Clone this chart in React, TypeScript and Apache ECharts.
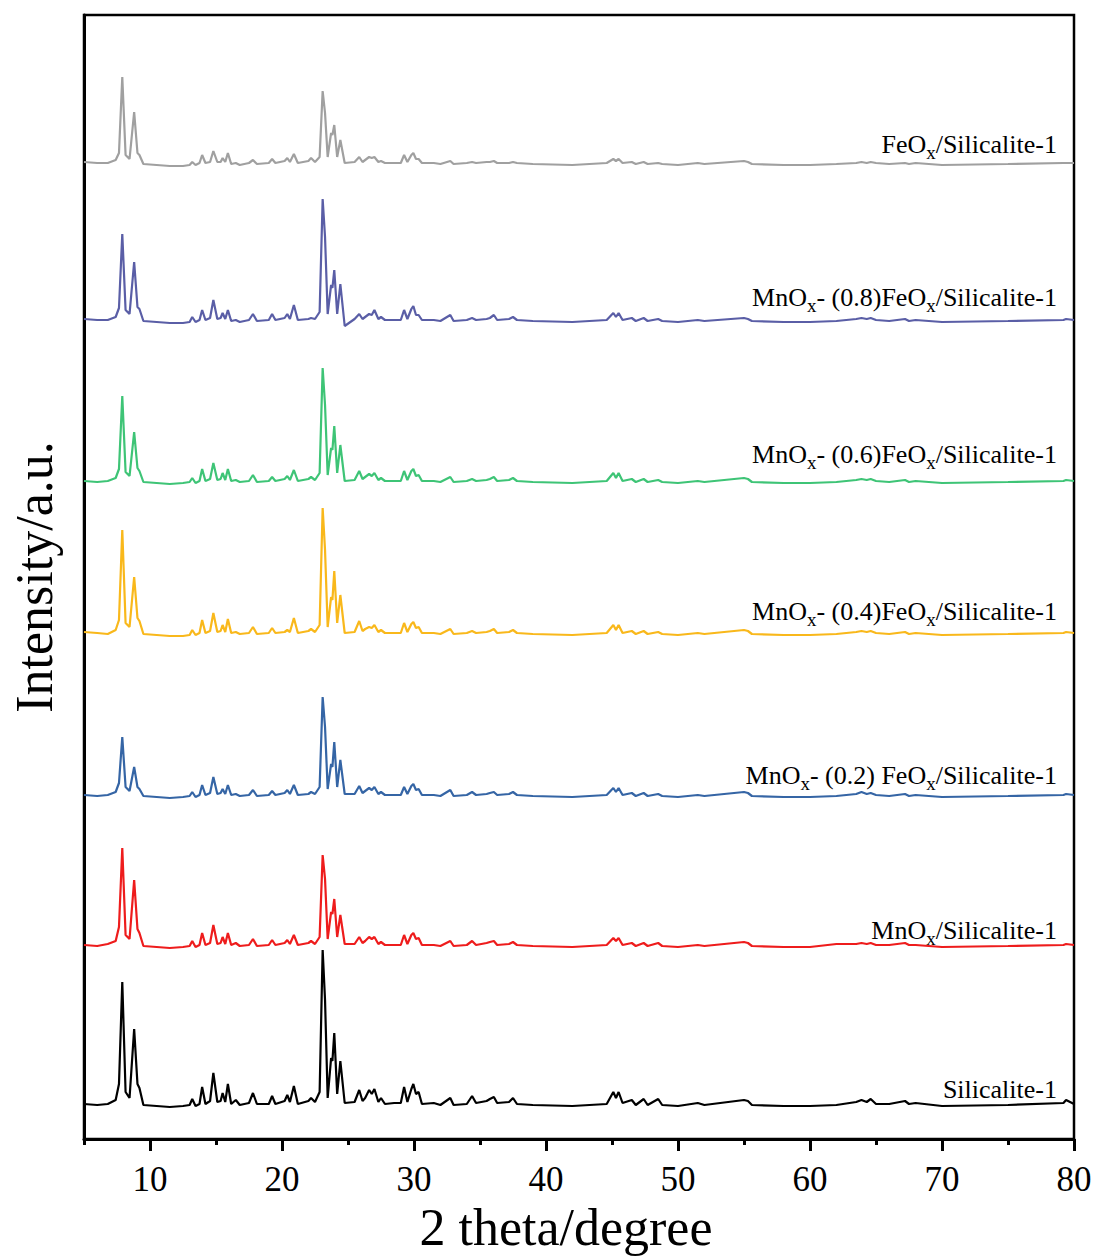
import React, { useEffect, useRef } from "react";
import * as echarts from "echarts";

// 2θ key points shared by all patterns
const twoTheta: number[] = [
  5.0, 6.0, 6.8, 7.4, 7.65, 7.9, 8.15, 8.45, 8.8, 9.05,
  9.2, 9.5, 10.5, 11.5, 12.5, 13.0, 13.2, 13.45, 13.75, 13.95,
  14.2, 14.55, 14.8, 15.1, 15.35, 15.5, 15.7, 15.9, 16.15, 16.5,
  16.8, 17.5, 17.8, 18.1, 19.0, 19.25, 19.5, 20.2, 20.4, 20.6,
  20.9, 21.2, 22.0, 22.2, 22.5, 22.85, 23.08, 23.26, 23.46, 23.72,
  23.82, 23.96, 24.18, 24.42, 24.75, 25.5, 25.85, 26.1, 26.3, 26.6,
  26.8, 27.0, 27.3, 27.5, 27.8, 28.5, 29.0, 29.25, 29.5, 29.8,
  29.95, 30.15, 30.35, 30.6, 31.5, 32.0, 32.75, 33.0, 34.0, 34.4,
  34.7, 35.5, 35.75, 36.05, 36.3, 37.2, 37.5, 37.8, 39.0, 42.0,
  44.6, 45.1, 45.3, 45.5, 45.8, 46.5, 46.8, 47.4, 47.7, 48.5,
  48.8, 50.0, 51.5, 52.0, 55.0, 55.3, 55.6, 58.0, 60.0, 62.0,
  63.5, 63.9, 64.3, 64.6, 65.0, 66.0, 67.2, 67.5, 68.0, 70.0,
  75.0, 79.2, 79.4, 80.0,
];

// intensities (a.u., above each pattern's own baseline)
const silicalite: number[] = [
  2, 1, 2, 6, 22, 124, 14, 8, 77, 22,
  18, 1, 0, -1, 0, 1, 7, 0, 2, 19,
  2, 5, 33, 4, 5, 13, 4, 22, 2, 6,
  1, 3, 13, 2, 2, 10, 2, 5, 11, 4,
  20, 2, 5, 8, 4, 14, 156, 106, 8, 48,
  45, 73, 12, 45, 3, 4, 16, 5, 8, 16,
  12, 17, 4, 8, 2, 3, 3, 19, 4, 17,
  22, 12, 14, 2, 3, 1, 8, 1, 2, 10,
  3, 5, 7, 9, 3, 4, 8, 2, 1, 0,
  2, 14, 8, 14, 3, 6, 1, 7, 1, 7,
  1, 0, 3, 1, 6, 5, 1, 0, 0, 1,
  4, 6, 4, 7, 2, 2, 5, 2, 3, 0,
  1, 3, 6, 2,
];
const mnSil: number[] = [
  2, 1, 3, 6, 20, 99, 12, 8, 67, 18,
  14, 1, 0, -1, 0, 1, 6, 0, 2, 14,
  2, 4, 22, 3, 4, 10, 3, 14, 2, 4,
  1, 2, 8, 1, 2, 7, 2, 4, 7, 3,
  12, 2, 4, 6, 3, 10, 92, 68, 8, 35,
  33, 48, 10, 32, 3, 3, 10, 4, 6, 10,
  8, 10, 3, 5, 2, 2, 2, 12, 3, 12,
  14, 8, 9, 2, 2, 1, 6, 1, 2, 6,
  2, 4, 5, 6, 2, 3, 5, 2, 1, 0,
  2, 9, 6, 9, 2, 4, 1, 4, 1, 4,
  1, 0, 2, 1, 5, 4, 1, 0, 0, 3,
  3, 4, 3, 4, 2, 2, 4, 2, 2, 0,
  1, 2, 3, 2,
];
const mnFe02: number[] = [
  2, 1, 2, 5, 14, 60, 10, 6, 30, 10,
  8, 1, 0, -1, 0, 1, 5, 0, 2, 12,
  2, 4, 20, 3, 4, 8, 3, 12, 2, 3,
  1, 2, 7, 1, 2, 6, 2, 4, 7, 3,
  12, 2, 3, 5, 3, 10, 100, 70, 8, 33,
  30, 55, 10, 37, 3, 3, 11, 4, 6, 9,
  7, 10, 3, 5, 2, 2, 2, 10, 3, 11,
  13, 7, 8, 2, 2, 1, 7, 1, 2, 5,
  2, 3, 4, 5, 2, 3, 5, 2, 1, 0,
  2, 9, 5, 9, 2, 4, 1, 4, 1, 3,
  1, 0, 2, 1, 5, 4, 1, 0, 0, 1,
  3, 5, 3, 4, 2, 1, 3, 1, 2, 0,
  1, 2, 3, 2,
];
const mnFe04: number[] = [
  3, 2, 1, 5, 15, 105, 12, 8, 58, 17,
  14, 1, 0, -1, -1, 0, 5, 0, 2, 15,
  2, 4, 22, 3, 4, 10, 3, 16, 2, 3,
  1, 2, 8, 1, 2, 7, 2, 3, 5, 3,
  17, 2, 4, 6, 3, 10, 127, 85, 8, 38,
  35, 64, 12, 40, 2, 3, 14, 4, 6, 8,
  7, 10, 3, 5, 2, 2, 2, 12, 3, 11,
  13, 7, 8, 2, 2, 1, 6, 1, 2, 4,
  2, 3, 4, 6, 2, 3, 5, 2, 1, 0,
  2, 10, 5, 10, 2, 4, 1, 4, 1, 3,
  1, 0, 2, 1, 5, 4, 1, 0, 0, 1,
  3, 4, 3, 4, 2, 1, 3, 1, 2, 0,
  1, 2, 3, 2,
];
const mnFe06: number[] = [
  2, 1, 2, 5, 14, 87, 11, 7, 51, 15,
  12, 1, 0, -1, 0, 1, 5, 0, 2, 14,
  2, 4, 20, 3, 4, 10, 3, 14, 2, 3,
  1, 2, 8, 1, 2, 6, 2, 4, 7, 3,
  13, 2, 4, 6, 3, 10, 115, 78, 8, 35,
  33, 57, 10, 38, 2, 3, 12, 4, 6, 9,
  7, 10, 3, 5, 2, 2, 2, 12, 3, 12,
  14, 7, 8, 2, 2, 1, 6, 1, 2, 4,
  2, 3, 4, 6, 2, 3, 5, 2, 1, 0,
  2, 10, 5, 10, 2, 4, 1, 4, 1, 3,
  1, 0, 2, 1, 5, 4, 1, 0, 0, 1,
  3, 4, 3, 4, 2, 1, 3, 1, 2, 0,
  1, 2, 3, 2,
];
const mnFe08: number[] = [
  3, 2, 2, 5, 14, 88, 12, 8, 60, 15,
  13, 1, 0, -1, -1, 0, 5, 0, 2, 12,
  2, 4, 22, 3, 4, 9, 3, 12, 1, 2,
  0, 2, 8, 1, 2, 8, 2, 4, 8, 3,
  17, 2, 3, 4, 3, 10, 123, 85, 8, 37,
  34, 52, 8, 38, -4, 3, 8, 3, 5, 8,
  7, 12, 3, 5, 2, 2, 2, 12, 3, 13,
  16, 7, 7, 2, 2, 1, 7, 1, 2, 4,
  2, 3, 4, 7, 2, 3, 5, 2, 1, 0,
  2, 9, 5, 9, 2, 4, 1, 4, 1, 3,
  1, 0, 2, 1, 4, 3, 1, 0, 0, 1,
  3, 4, 3, 4, 2, 1, 3, 1, 2, 0,
  1, 2, 3, 2,
];
const feSil: number[] = [
  3, 2, 2, 5, 12, 88, 10, 6, 53, 12,
  10, 1, 0, -1, -1, 0, 3, 0, 2, 10,
  2, 3, 14, 3, 3, 7, 3, 12, 1, 2,
  0, 2, 5, 1, 2, 6, 2, 4, 7, 3,
  11, 2, 4, 7, 3, 8, 74, 52, 8, 32,
  30, 40, 8, 25, 2, 3, 8, 3, 5, 8,
  7, 8, 3, 4, 2, 2, 2, 10, 3, 10,
  12, 6, 6, 2, 2, 1, 4, 1, 2, 3,
  2, 3, 3, 4, 2, 2, 3, 2, 1, 0,
  2, 6, 4, 6, 2, 3, 1, 3, 1, 2,
  1, 0, 2, 1, 4, 3, 1, 0, 0, 1,
  2, 3, 2, 3, 2, 1, 2, 1, 2, 0,
  1, 2, 2, 2,
];

// vertical offsets of the stacked patterns
const offsets: number[] = [33, 192, 342, 504, 656, 817, 974];
const patterns: number[][] = [silicalite, mnSil, mnFe02, mnFe04, mnFe06, mnFe08, feSil];
const seriesNames: string[] = [
  "Silicalite-1",
  "MnOx/Silicalite-1",
  "MnOx- (0.2) FeOx/Silicalite-1",
  "MnOx- (0.4)FeOx/Silicalite-1",
  "MnOx- (0.6)FeOx/Silicalite-1",
  "MnOx- (0.8)FeOx/Silicalite-1",
  "FeOx/Silicalite-1",
];
const richLabels: string[] = [
  "{n|Silicalite-1}",
  "{n|MnO}{s|x}{n|/Silicalite-1}",
  "{n|MnO}{s|x}{n|- (0.2) FeO}{s|x}{n|/Silicalite-1}",
  "{n|MnO}{s|x}{n|- (0.4)FeO}{s|x}{n|/Silicalite-1}",
  "{n|MnO}{s|x}{n|- (0.6)FeO}{s|x}{n|/Silicalite-1}",
  "{n|MnO}{s|x}{n|- (0.8)FeO}{s|x}{n|/Silicalite-1}",
  "{n|FeO}{s|x}{n|/Silicalite-1}",
];
const colors: string[] = ["#000000", "#ee1c1c", "#3565a5", "#f9b81b", "#3ec476", "#5a5ea6", "#a0a0a0"];
const labelY: number[] = [1089, 930, 775, 611, 454, 297, 144];

const majorTicks: number[] = [10, 20, 30, 40, 50, 60, 70, 80];
const minorTicks: number[] = [5, 15, 25, 35, 45, 55, 65, 75];

const FONT = "'Liberation Serif', 'Times New Roman', serif";

export default function App() {
  const ref = useRef<HTMLDivElement>(null);
  useEffect(() => {
    if (!ref.current) return;
    const chart = echarts.init(ref.current, undefined, { renderer: "svg" });
    const series = patterns.map((p, k) => ({
      name: seriesNames[k],
      type: "line",
      xAxisIndex: 0,
      yAxisIndex: 0,
      showSymbol: false,
      symbol: "none",
      data: twoTheta.map((x, i) => [x, offsets[k] + p[i]]),
      lineStyle: { color: colors[k], width: 2.2 },
      itemStyle: { color: colors[k] },
      z: 3,
    }));
    chart.setOption({
      animation: false,
      backgroundColor: "#ffffff",
      grid: {
        left: 83,
        right: 26,
        top: 15,
        bottom: 120,
        show: true,
        borderColor: "#000",
        borderWidth: 2.5,
        backgroundColor: "transparent",
      },
      xAxis: [
        {
          type: "value",
          min: 5,
          max: 80,
          position: "bottom",
          axisLine: { show: true, lineStyle: { color: "#000", width: 3 } },
          axisTick: { show: true, customValues: majorTicks, length: 12, lineStyle: { color: "#000", width: 3 } },
          axisLabel: {
            show: true,
            customValues: majorTicks,
            fontSize: 35,
            fontFamily: FONT,
            color: "#000",
            margin: 23,
          },
          splitLine: { show: false },
          name: "2 theta/degree",
          nameLocation: "middle",
          nameGap: 62,
          nameTextStyle: { fontSize: 52, fontFamily: FONT, color: "#000", padding: [0, 26, 0, 0] },
        },
        {
          type: "value",
          min: 5,
          max: 80,
          position: "bottom",
          axisLine: { show: false },
          axisTick: { show: true, customValues: minorTicks, length: 6, lineStyle: { color: "#000", width: 3 } },
          axisLabel: { show: false },
          splitLine: { show: false },
        },
      ],
      yAxis: {
        type: "value",
        min: 0,
        max: 1124,
        axisLine: { show: true, lineStyle: { color: "#000", width: 3 } },
        axisTick: { show: false },
        axisLabel: { show: false },
        splitLine: { show: false },
        name: "Intensity/a.u.",
        nameLocation: "middle",
        nameGap: 24,
        nameTextStyle: { fontSize: 52, fontFamily: FONT, color: "#000" },
      },
      series,
      graphic: richLabels.map((t, k) => ({
        type: "text",
        x: 1057,
        y: labelY[k],
        z: 10,
        style: {
          text: t,
          align: "right",
          verticalAlign: "middle",
          rich: {
            n: { fontSize: 26, fontFamily: FONT, fill: "#000", lineHeight: 26 },
            s: { fontSize: 19, fontFamily: FONT, fill: "#000", lineHeight: 26, padding: [16, 0, 0, 0] },
          },
        },
      })),
    });
    return () => chart.dispose();
  }, []);
  return (
    <div
      ref={ref}
      style={{ position: "fixed", left: 0, top: 0, width: 1100, height: 1259, background: "#fff" }}
    />
  );
}
